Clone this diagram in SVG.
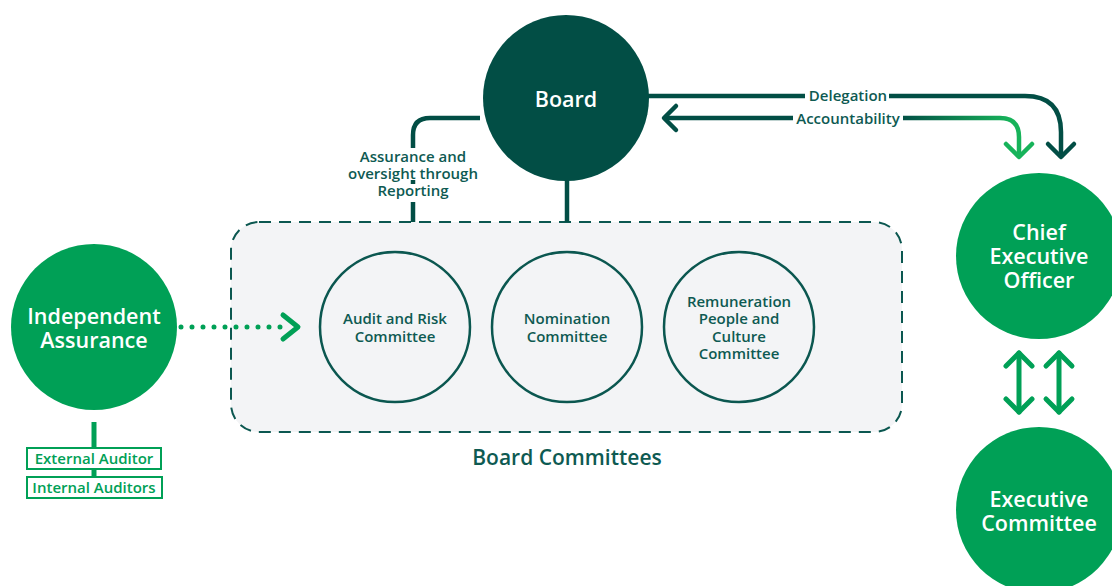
<svg xmlns="http://www.w3.org/2000/svg" width="1112" height="586" viewBox="0 0 1112 586">
<defs>
<linearGradient id="acc" gradientUnits="userSpaceOnUse" x1="900" y1="0" x2="1010" y2="0">
<stop offset="0" stop-color="#024e45"/>
<stop offset="1" stop-color="#17b35a"/>
</linearGradient>
<style>
text{font-family:"Open Sans","Noto Sans","Liberation Sans",sans-serif;font-weight:600;text-anchor:middle;dominant-baseline:central}
.dk{fill:#024e45}
.gr{fill:#00a056}
.wt{fill:#ffffff;font-size:21.5px}
.cm{fill:#0e5a52;font-size:15px}
.lbl{fill:#0e5a52;font-size:15px}
.ln{fill:none;stroke:#024e45;stroke-width:4.5;stroke-linecap:butt}
.ga{fill:none;stroke:#00a056;stroke-width:5;stroke-linecap:round;stroke-linejoin:round}
.com{fill:none;stroke:#0b5750;stroke-width:2.5}
.aud{fill:#ffffff;stroke:#00a056;stroke-width:2}
.audt{fill:#00a056;font-size:15px}
</style>
</defs>
<rect width="1112" height="586" fill="#ffffff"/>

<g id="board-committees">
<rect x="231" y="222" width="671" height="210" rx="28" fill="#f3f4f6" stroke="#0b5750" stroke-width="2" stroke-dasharray="12 8"/>
<text x="567" y="457" style="fill:#0e5a52;font-size:21px">Board Committees</text>
</g>

<g id="connectors">
<line class="ln" x1="567" y1="180" x2="567" y2="222"/>
<path class="ln" d="M480 118 H430 Q413 118 413 135 V148"/>
<line class="ln" x1="413" y1="180" x2="413" y2="184"/>
<line class="ln" x1="413" y1="202" x2="413" y2="222"/>
<path class="ln" d="M648 96 H805"/>
<path class="ln" d="M889 96 H1025 Q1061 96 1061 132 V157"/>
<polyline class="ln" points="1048,144 1061,157 1074,144" style="stroke-linecap:round;stroke-linejoin:round"/>
<path class="ln" d="M664 118 H793"/>
<polyline class="ln" points="676,106 664,118 676,130" style="stroke-linecap:round;stroke-linejoin:round"/>
<path d="M903 118 H1000 Q1019 118 1019 137 V157" fill="none" stroke="url(#acc)" stroke-width="4.5"/>
<polyline points="1006,144 1019,157 1032,144" fill="none" stroke="#17b35a" stroke-width="4.5" stroke-linecap="round" stroke-linejoin="round"/>
<line x1="181" y1="327" x2="289" y2="327" stroke="#00a056" stroke-width="5" stroke-linecap="round" stroke-dasharray="0 11"/>
<polyline class="ga" points="283,315 298,327 283,339"/>
<line class="ga" x1="1019" y1="353" x2="1019" y2="412"/>
<polyline class="ga" points="1006,366 1019,353 1032,366"/>
<polyline class="ga" points="1006,399 1019,412 1032,399"/>
<line class="ga" x1="1059" y1="353" x2="1059" y2="412"/>
<polyline class="ga" points="1046,366 1059,353 1072,366"/>
<polyline class="ga" points="1046,399 1059,412 1072,399"/>
<line x1="94" y1="422" x2="94" y2="478" stroke="#00a056" stroke-width="5"/>
</g>

<g id="labels">
<text class="lbl" x="848" y="95">Delegation</text>
<text class="lbl" x="848" y="118">Accountability</text>
<text class="lbl" x="413" y="156">Assurance and</text>
<text class="lbl" x="413" y="173">oversight through</text>
<text class="lbl" x="413" y="190">Reporting</text>
</g>

<g id="board">
<circle cx="566" cy="98" r="83" class="dk"/>
<text class="wt" x="566" y="98">Board</text>
</g>

<g id="audit-risk">
<circle cx="395" cy="327" r="75" class="com"/>
<text class="cm" x="395" y="318">Audit and Risk</text>
<text class="cm" x="395" y="336">Committee</text>
</g>

<g id="nomination">
<circle cx="567" cy="327" r="75" class="com"/>
<text class="cm" x="567" y="318">Nomination</text>
<text class="cm" x="567" y="336">Committee</text>
</g>

<g id="remuneration">
<circle cx="739" cy="327" r="75" class="com"/>
<text class="cm" x="739" y="301">Remuneration</text>
<text class="cm" x="739" y="318">People and</text>
<text class="cm" x="739" y="336">Culture</text>
<text class="cm" x="739" y="353">Committee</text>
</g>

<g id="independent-assurance">
<circle cx="94" cy="327" r="83" class="gr"/>
<text class="wt" x="94" y="315">Independent</text>
<text class="wt" x="94" y="339">Assurance</text>
</g>

<g id="external-auditor">
<rect class="aud" x="27" y="448" width="134" height="21"/>
<text class="audt" x="94" y="458">External Auditor</text>
</g>

<g id="internal-auditors">
<rect class="aud" x="27" y="477" width="135" height="21"/>
<text class="audt" x="94" y="487">Internal Auditors</text>
</g>

<g id="ceo">
<circle cx="1039" cy="256" r="83" class="gr"/>
<text class="wt" x="1039" y="231">Chief</text>
<text class="wt" x="1039" y="255">Executive</text>
<text class="wt" x="1039" y="279">Officer</text>
</g>

<g id="executive-committee">
<circle cx="1039" cy="510" r="83" class="gr"/>
<text class="wt" x="1039" y="498">Executive</text>
<text class="wt" x="1039" y="522">Committee</text>
</g>
</svg>
